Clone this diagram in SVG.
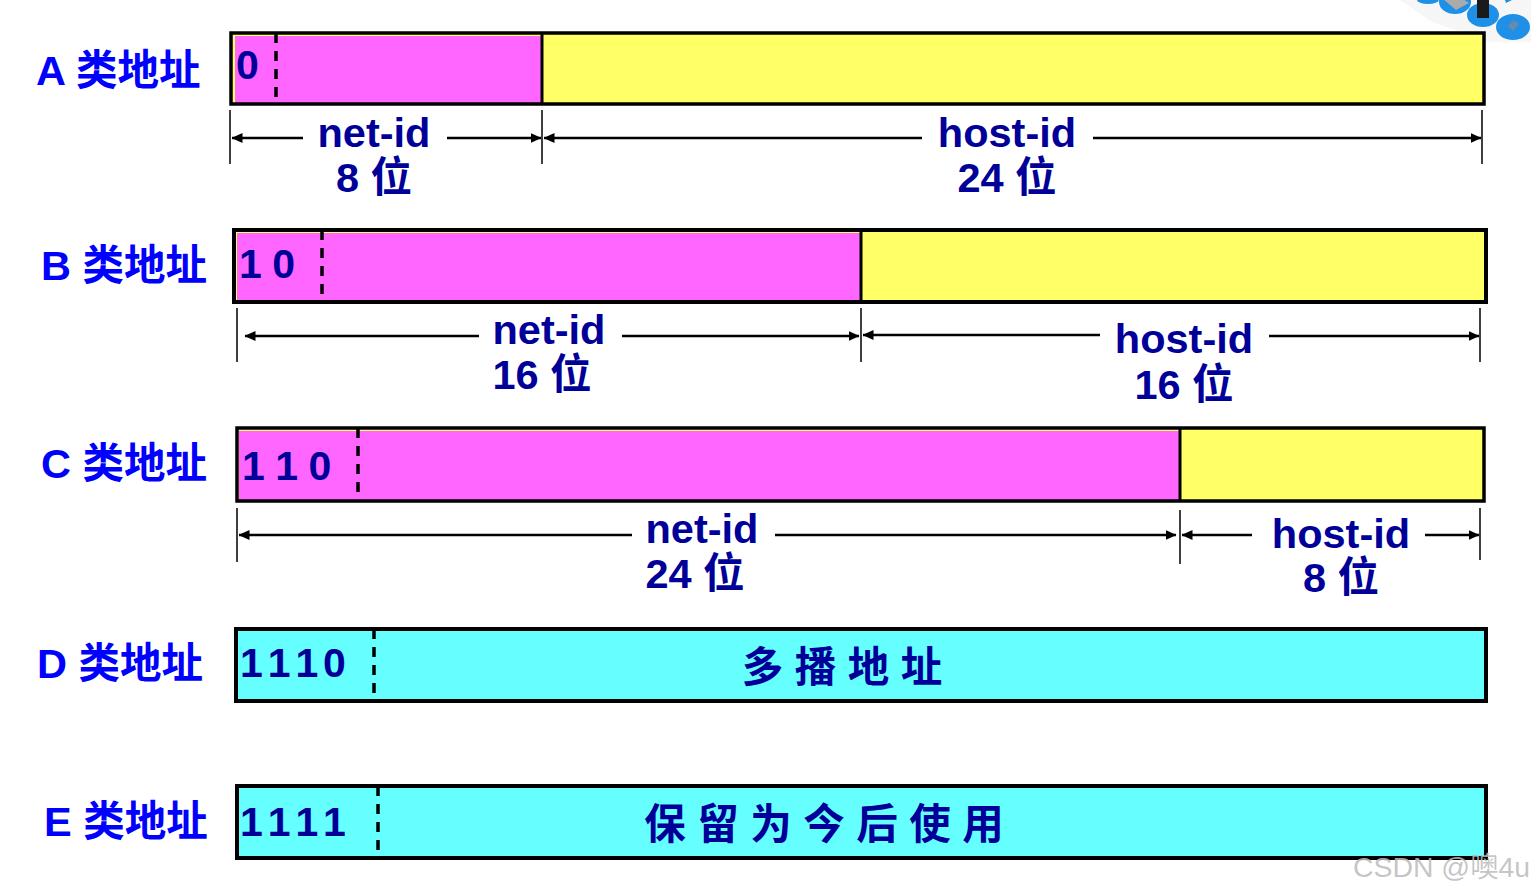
<svg xmlns="http://www.w3.org/2000/svg" width="1531" height="893" viewBox="0 0 1531 893">
<style>
text{font-family:"Liberation Sans","Noto Sans CJK SC",sans-serif;font-weight:bold}
.lab{font-size:41.5px;fill:#0000ff}
.dim{font-size:41.5px;fill:#000099;text-anchor:middle}
.bit{font-size:41px;fill:#000099}
.box{stroke:#000;stroke-width:3.5;fill:none}
.box2{stroke:#000;stroke-width:4;fill:none}
.net{fill:#ff66ff}.host{fill:#ffff66}.mc{fill:#66ffff}
.dv{stroke:#000;stroke-width:3}
.dash{stroke:#000;stroke-width:3.5;stroke-dasharray:10 8}
.tick{stroke:#000;stroke-width:1.5}
.arr{stroke:#000;stroke-width:2.5;fill:none;marker-end:url(#ah)}
.cn{font-size:41.5px;fill:#000099;text-anchor:middle}
.disc{fill:#1e90e8}
</style>
<defs><marker id="ah" markerUnits="userSpaceOnUse" markerWidth="11" markerHeight="10" refX="10.5" refY="5" orient="auto"><path d="M0 0L11 5L0 10Z" fill="#000"/></marker></defs>
<g id="logo">
<path d="M1400 0L1432 22L1490 42L1531 42L1531 0Z" fill="#f6f6f6"/>
<rect x="1486" y="33" width="1" height="1" fill="#fff"/>
<ellipse class="disc" cx="1428" cy="0" rx="11" ry="4"/>
<ellipse class="disc" cx="1455" cy="2" rx="16" ry="12"/>
<path d="M1443 -1L1463 -1L1469 3L1456 10Z" fill="#aaa"/>
<ellipse class="disc" cx="1483" cy="15" rx="16" ry="12"/>
<rect x="1477" y="0" width="12" height="18" fill="#1a1a1a"/>
<ellipse class="disc" cx="1513" cy="27" rx="17" ry="13"/>
<path d="M1508 26L1514 20L1519 24L1513 31Z" fill="#6a8aa5"/>
<path d="M1505 0L1512 0L1506 3Z" fill="#1e90e8"/>
</g>
<g id="row-a">
<rect class="host" x="231" y="33" width="1253" height="71"/><rect class="net" x="235" y="36" width="307" height="68"/>
<rect class="box" x="231" y="33" width="1253" height="71"/><line class="dv" x1="542" y1="33" x2="542" y2="104"/><line class="dash" x1="276" y1="33" x2="276" y2="104"/>
<text class="bit" x="236" y="79">0</text><text class="lab" x="36" y="85">A 类地址</text>
<text class="dim" x="374" y="147">net-id</text><text class="dim" x="374" y="192">8 位</text>
<text class="dim" x="1007" y="147">host-id</text><text class="dim" x="1007" y="192">24 位</text>
</g>
<g id="row-b">
<rect class="host" x="234" y="230" width="1252" height="72"/><rect class="net" x="237" y="233" width="624" height="69"/>
<rect class="box2" x="234" y="230" width="1252" height="72"/><line class="dv" x1="861" y1="230" x2="861" y2="302"/><line class="dash" x1="322" y1="230" x2="322" y2="302"/>
<text class="bit" x="239" y="278" word-spacing="-1">1 0</text><text class="lab" x="41" y="280">B 类地址</text>
<text class="dim" x="549" y="344">net-id</text><text class="dim" x="542" y="389">16 位</text>
<text class="dim" x="1184" y="353">host-id</text><text class="dim" x="1184" y="399">16 位</text>
</g>
<g id="row-c">
<rect class="host" x="237" y="428" width="1247" height="73"/><rect class="net" x="239" y="431" width="941" height="70"/>
<rect class="box" x="237" y="428" width="1247" height="73"/><line class="dv" x1="1180" y1="428" x2="1180" y2="501"/><line class="dash" x1="358" y1="428" x2="358" y2="501"/>
<text class="bit" x="242" y="480" word-spacing="-1">1 1 0</text><text class="lab" x="41" y="478">C 类地址</text>
<text class="dim" x="702" y="543">net-id</text><text class="dim" x="695" y="588">24 位</text>
<text class="dim" x="1341" y="548">host-id</text><text class="dim" x="1341" y="592">8 位</text>
</g>
<g id="row-d">
<rect class="mc" x="236" y="629" width="1250" height="72"/><rect class="box2" x="236" y="629" width="1250" height="72"/><line class="dash" x1="374" y1="629" x2="374" y2="701"/>
<text class="bit" x="240" y="677" word-spacing="-6.5">1 1 1 0</text><text class="lab" x="37" y="678">D 类地址</text>
<text class="cn" x="842" y="682">多 播 地 址</text>
</g>
<g id="row-e">
<rect class="mc" x="237" y="786" width="1249" height="72"/><rect class="box2" x="237" y="786" width="1249" height="72"/><line class="dash" x1="378" y1="786" x2="378" y2="860"/>
<text class="bit" x="240" y="836" word-spacing="-6.5">1 1 1 1</text><text class="lab" x="44" y="836">E 类地址</text>
<text class="cn" x="824" y="839">保 留 为 今 后 使 用</text>
</g>
<g id="connectors">
<path class="tick" d="M230 110V164M542 110V164M1482 110V164M237 308V362M861 308V362M1480 308V362M237 508V562M1180 510V564M1480 508V560"/>
<line class="arr" x1="303" y1="138" x2="232" y2="138"/><line class="arr" x1="447" y1="138" x2="541" y2="138"/>
<line class="arr" x1="922" y1="138" x2="544" y2="138"/><line class="arr" x1="1093" y1="138" x2="1481" y2="138"/>
<line class="arr" x1="479" y1="336" x2="245" y2="336"/><line class="arr" x1="622" y1="336" x2="859" y2="336"/>
<line class="arr" x1="1100" y1="335" x2="863" y2="335"/><line class="arr" x1="1269" y1="336" x2="1479" y2="336"/>
<line class="arr" x1="632" y1="535" x2="239" y2="535"/><line class="arr" x1="775" y1="535" x2="1176" y2="535"/>
<line class="arr" x1="1252" y1="535" x2="1182" y2="535"/><line class="arr" x1="1425" y1="535" x2="1479" y2="535"/>
</g>
<text x="1353" y="877" font-size="28.4" style="font-family:'Liberation Sans','Noto Sans CJK SC',sans-serif;font-weight:normal" fill="#bbb" fill-opacity=".85">CSDN @噢4u</text>
</svg>
